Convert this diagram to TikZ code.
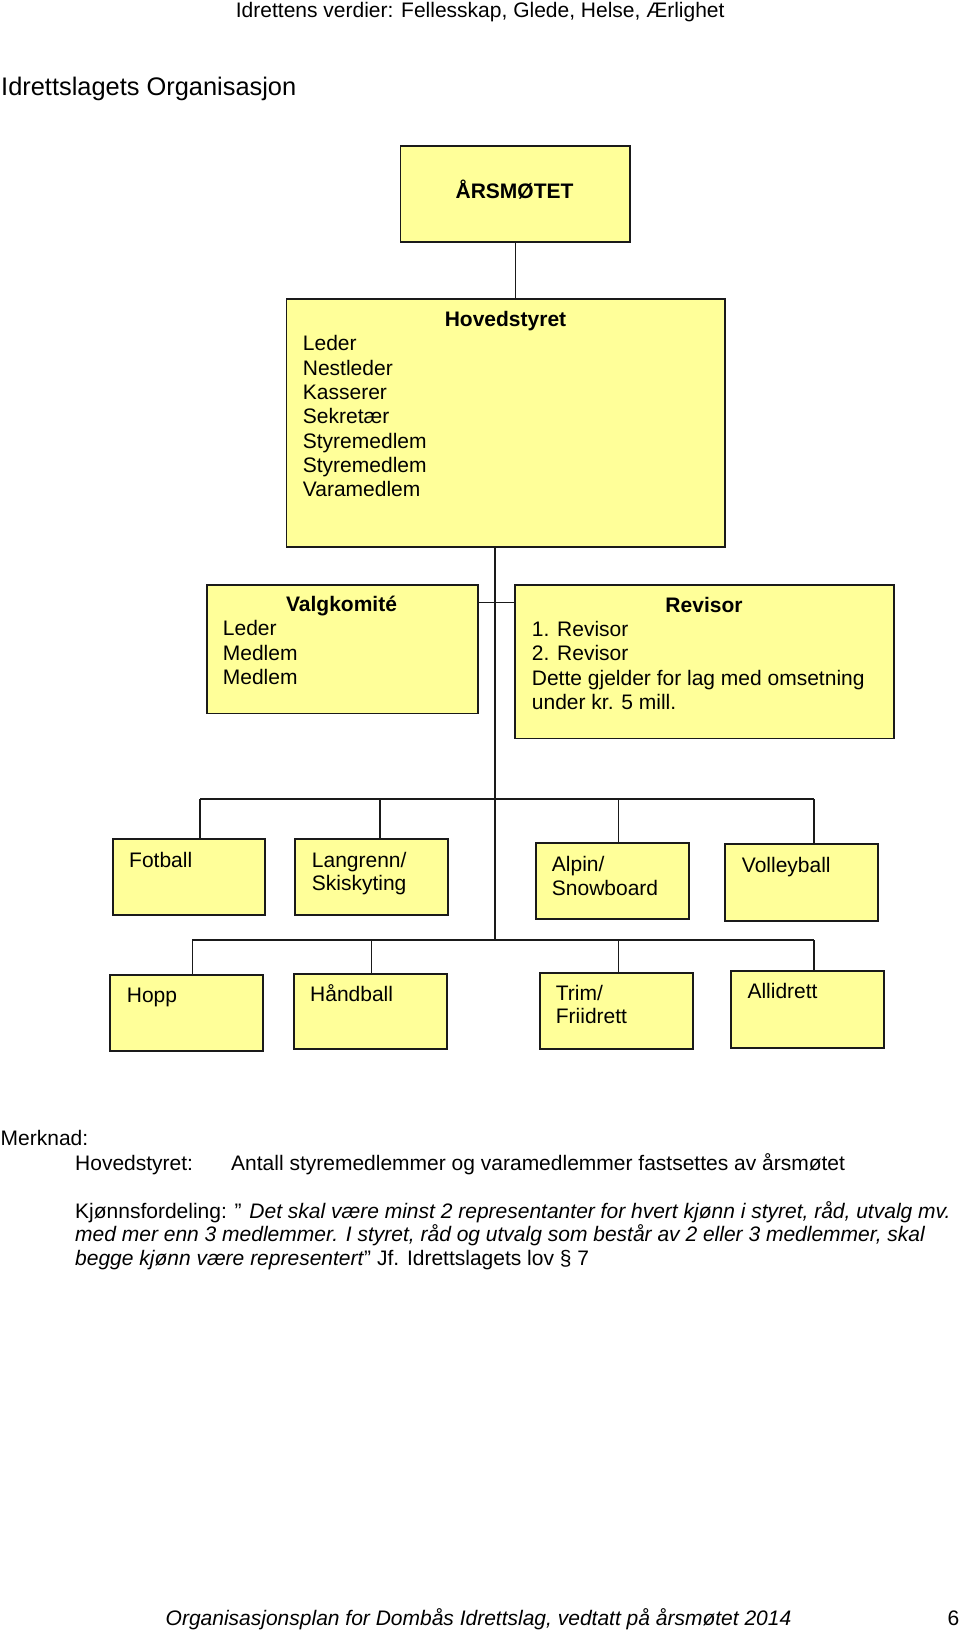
\documentclass[tikz,border=0pt]{standalone}
\usepackage{fontspec}
\setmainfont{Liberation Sans}
\usetikzlibrary{calc}
\usetikzlibrary{positioning}
\definecolor{boxfill}{HTML}{FFFF99}
\definecolor{boxline}{HTML}{1A1A1A}

\begin{document}
\begin{tikzpicture}[x=1pt, y=-1pt,
    box/.style={draw=boxline, line width=1.8pt, fill=boxfill, anchor=north west, inner sep=0pt},
    link/.style={draw=boxline, line width=1.3pt},
    txt/.style={anchor=base west, inner sep=0pt, align=left, font=\fontsize{21}{24.3}\selectfont},
    rowtxt/.style={txt, font=\fontsize{21}{23.4}\selectfont},
    head/.style={anchor=base, inner sep=0pt, font=\fontsize{21}{24.3}\selectfont\bfseries}]
  \useasboundingbox (0,0) rectangle (960,1631);

  % page head
  \node[txt] (verdier) at (235.7,17.3) {Idrettens verdier: Fellesskap, Glede, Helse, Ærlighet};
  \node[txt, font=\fontsize{25.4}{29}\selectfont] (tittel) at (1,95.7) {Idrettslagets Organisasjon};

  % boxes
  \node[box, minimum width=229.5pt, minimum height=96pt] (aarsmote) at (399.5,145) {};
  \node[box, minimum width=438.5pt, minimum height=248pt] (hovedstyret) at (285.5,298) {};
  \node[box, minimum width=271pt, minimum height=128.5pt] (valgkomite) at (206,584) {};
  \node[box, minimum width=379pt, minimum height=153.5pt] (revisor) at (514,584) {};
  \node[box, minimum width=152.5pt, minimum height=76pt] (fotball) at (111.7,838) {};
  \node[box, minimum width=153pt, minimum height=76pt] (langrenn) at (294,838) {};
  \node[box, minimum width=153.3pt, minimum height=76.6pt] (alpin) at (535,841.7) {};
  \node[box, minimum width=153.3pt, minimum height=76.7pt] (volleyball) at (724,843.3) {};
  \node[box, minimum width=153pt, minimum height=76pt] (hopp) at (109,974) {};
  \node[box, minimum width=153pt, minimum height=75pt] (handball) at (293,973) {};
  \node[box, minimum width=152.7pt, minimum height=76.6pt] (trim) at (539,971.7) {};
  \node[box, minimum width=153.3pt, minimum height=76.7pt] (allidrett) at (730,970) {};

  % junctions
  \coordinate (trunk) at (495,940);
  \coordinate (revlink) at (495,602.3);
  \coordinate (fotballtop) at (200,799);
  \coordinate (langrenntop) at (380,799);
  \coordinate (alpintop) at (618.3,799);
  \coordinate (volleyballtop) at (814,799);
  \coordinate (hopptop) at (192.3,940);
  \coordinate (handballtop) at (371.7,940);
  \coordinate (trimtop) at (618.3,940);
  \coordinate (allidretttop) at (814,940);

  % connectors
  \draw[link] (aarsmote.south) -- (aarsmote.south |- hovedstyret.north);
  \draw[link] (trunk |- hovedstyret.south) -- (trunk);
  \draw[link] (revlink -| valgkomite.east) -- (revlink -| revisor.west);
  \draw[link] (fotballtop) -- (volleyballtop);
  \draw[link] (hopptop) -- (allidretttop);
  \draw[link] (fotballtop) -- (fotballtop |- fotball.north);
  \draw[link] (langrenntop) -- (langrenntop |- langrenn.north);
  \draw[link] (alpintop) -- (alpintop |- alpin.north);
  \draw[link] (volleyballtop) -- (volleyballtop |- volleyball.north);
  \draw[link] (hopptop) -- (hopptop |- hopp.north);
  \draw[link] (handballtop) -- (handballtop |- handball.north);
  \draw[link] (trimtop) -- (trimtop |- trim.north);
  \draw[link] (allidretttop) -- (allidretttop |- allidrett.north);

  % box texts (multi-line texts sit on their last line)
  \node[head] (aarsmotetxt) at (514.5,198.3) {ÅRSMØTET};
  \node[head] (hovedstyrettxt) at (505.5,326) {Hovedstyret};
  \node[txt] (hovedstyretliste) at (302.7,496.7) {Leder\\Nestleder\\Kasserer\\Sekretær\\Styremedlem\\Styremedlem\\Varamedlem};
  \node[head] (valgkomitetxt) at (341.5,611.7) {Valgkomité};
  \node[txt] (valgkomiteliste) at (222.7,684.5) {Leder\\Medlem\\Medlem};
  \node[head] (revisortxt) at (704,612.3) {Revisor};
  \node[txt] (revisorliste) at (531.7,709.3) {1. Revisor\\2. Revisor\\Dette gjelder for lag med omsetning\\under kr. 5 mill.};
  \node[rowtxt] (fotballtxt) at (129,867.3) {Fotball};
  \node[rowtxt] (langrenntxt) at (311.7,890.7) {Langrenn/\\Skiskyting};
  \node[rowtxt] (alpintxt) at (551.7,895) {Alpin/\\Snowboard};
  \node[rowtxt] (volleyballtxt) at (741.7,872.3) {Volleyball};
  \node[rowtxt] (hopptxt) at (126.7,1002.7) {Hopp};
  \node[rowtxt] (handballtxt) at (310,1001.7) {Håndball};
  \node[rowtxt] (trimtxt) at (555.7,1023.7) {Trim/\\Friidrett};
  \node[rowtxt] (allidretttxt) at (747.3,998.3) {Allidrett};

  % notes
  \node[txt] (merknad) at (0.5,1145) {Merknad:};
  \node[txt] (merknadhs) at (75,1170) {Hovedstyret:};
  \node[txt] (merknadantall) at (231,1170) {Antall styremedlemmer og varamedlemmer fastsettes av årsmøtet};
  \node[rowtxt] (kjonn) at (75,1265.2) {Kjønnsfordeling: ” \textit{Det skal være minst 2 representanter for hvert kjønn i styret, råd, utvalg mv.}\\
    \textit{med mer enn 3 medlemmer. I styret, råd og utvalg som består av 2 eller 3 medlemmer, skal}\\
    \textit{begge kjønn være representert}” Jf. Idrettslagets lov § 7};

  % page foot
  \node[txt, font=\fontsize{21}{24.3}\selectfont\itshape] (bunntekst) at (165.5,1625) {Organisasjonsplan for Dombås Idrettslag, vedtatt på årsmøtet 2014};
  \node[txt] (sidetall) at (947.5,1625) {6};
\end{tikzpicture}
\end{document}
